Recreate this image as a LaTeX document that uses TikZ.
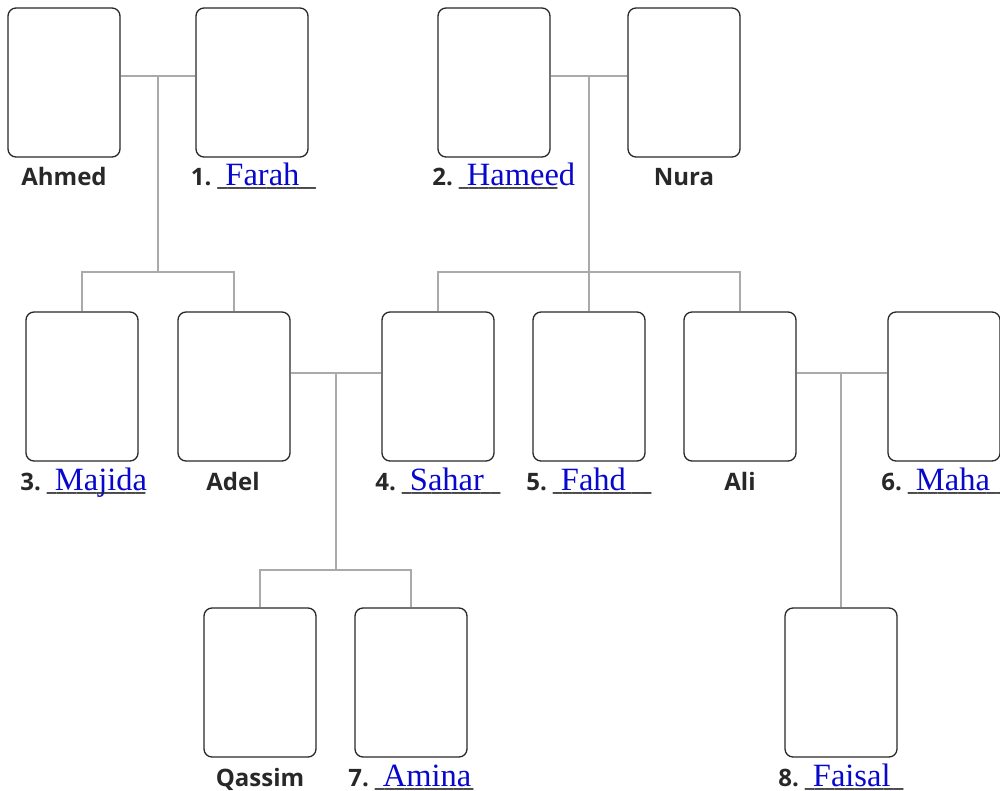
\documentclass[tikz,border=0pt]{standalone}
\usepackage{fontspec}
\setmainfont{Liberation Serif}
\newfontfamily\lblfamily{Open Sans}
\definecolor{namecol}{RGB}{8,8,204}
\definecolor{boxcol}{RGB}{40,40,40}
\definecolor{linecol}{RGB}{170,170,170}
\newcommand\lblf{\lblfamily\bfseries\fontsize{24}{28}\selectfont}
\newcommand\namef{\rmfamily\mdseries\fontsize{32.5}{36}\selectfont\color{namecol}}
\newcommand\blankname[2]{{\lblf #1.\hspace{6pt}}\rlap{\hspace{8pt}\namef #2}{\lblf\_\_\_\_\_\_\_\_\_\_}}
\tikzset{
  person/.style={draw=boxcol, line width=1.3pt, rounded corners=8pt, fill=white,
    minimum width=112pt, minimum height=149pt, inner sep=0pt},
  conn/.style={draw=linecol, line width=1.4pt},
  lbl/.style={anchor=base, inner sep=0pt, text=boxcol, font=\lblf},
}
\begin{document}
\begin{tikzpicture}[x=1pt, y=-1pt]
\useasboundingbox (0,0) rectangle (1000,791);
\coordinate (m1) at (158,76);
\coordinate (b1) at (158,272);
\coordinate (m2) at (589,76);
\coordinate (b2) at (589,272);
\coordinate (m3) at (336,373);
\coordinate (b3) at (336,570);
\coordinate (m4) at (841,373);
% boxes
\node[person] (ahmed) at (64,82.5) {};
\node[person] (farah) at (252,82.5) {};
\node[person] (hameed) at (494,82.5) {};
\node[person] (nura) at (684,82.5) {};
\node[person] (majida) at (82,386.5) {};
\node[person] (adel) at (234,386.5) {};
\node[person] (sahar) at (438,386.5) {};
\node[person] (fahd) at (589,386.5) {};
\node[person] (ali) at (740,386.5) {};
\node[person] (maha) at (944,386.5) {};
\node[person] (qassim) at (260,682.5) {};
\node[person] (amina) at (411,682.5) {};
\node[person] (faisal) at (841,682.5) {};
% family 1
\draw[conn] (ahmed.east |- m1) -- (farah.west |- m1);
\draw[conn] (m1) -- (b1);
\draw[conn] (majida.north) -- (majida.north |- b1) -- (adel.north |- b1) -- (adel.north);
% family 2
\draw[conn] (hameed.east |- m2) -- (nura.west |- m2);
\draw[conn] (m2) -- (b2);
\draw[conn] (sahar.north) -- (sahar.north |- b2) -- (ali.north |- b2) -- (ali.north);
\draw[conn] (b2) -- (fahd.north);
% family 3
\draw[conn] (adel.east |- m3) -- (sahar.west |- m3);
\draw[conn] (m3) -- (b3);
\draw[conn] (qassim.north) -- (qassim.north |- b3) -- (amina.north |- b3) -- (amina.north);
% family 4
\draw[conn] (ali.east |- m4) -- (maha.west |- m4);
\draw[conn] (m4) -- (faisal.north);
% labels
\node[lbl] (lahmed) at (64,186) {Ahmed};
\node[lbl] (lfarah) at (253.5,186) {\blankname{1}{Farah}};
\node[lbl] (lhameed) at (495,186) {\blankname{2}{Hameed}};
\node[lbl] (lnura) at (684,186) {Nura};
\node[lbl] (lmajida) at (83,490) {\blankname{3}{Majida}};
\node[lbl] (ladel) at (233,490) {Adel};
\node[lbl] (lsahar) at (438,490) {\blankname{4}{Sahar}};
\node[lbl] (lfahd) at (589,490) {\blankname{5}{Fahd}};
\node[lbl] (lali) at (740,490) {Ali};
\node[lbl] (lmaha) at (944,490) {\blankname{6}{Maha}};
\node[lbl] (lqassim) at (260,786) {Qassim};
\node[lbl] (lamina) at (411,786) {\blankname{7}{Amina}};
\node[lbl] (lfaisal) at (841,786) {\blankname{8}{Faisal}};
\end{tikzpicture}
\end{document}
